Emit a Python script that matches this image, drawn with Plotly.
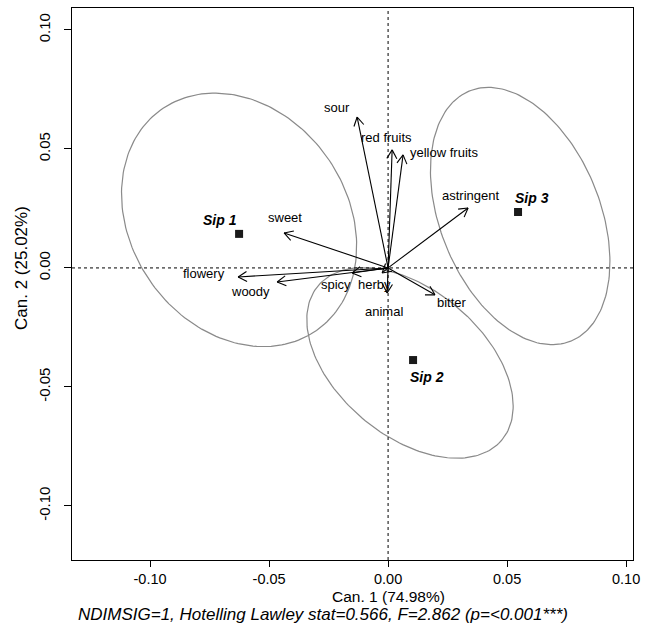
import numpy as np
import plotly.graph_objects as go

# ---- data ----
groups = ["Sip 1", "Sip 2", "Sip 3"]
group_x = [-0.0626, 0.0105, 0.0546]
group_y = [0.0143, -0.0387, 0.0235]
group_label_x = [-0.0706, 0.0164, 0.0605]
group_label_y = [0.0202, -0.0458, 0.0294]

ellipse_cx = [-0.0626, 0.0092, 0.0555]
ellipse_cy = [0.0202, -0.0399, 0.0218]
ellipse_a = [0.0567, 0.0504, 0.0567]
ellipse_b = [0.0454, 0.0307, 0.0336]
ellipse_angle = [-55, -40, -68]

attributes = ["sour", "red fruits", "yellow fruits", "astringent", "sweet",
              "flowery", "woody", "spicy", "herby", "animal", "bitter"]
attr_x = [-0.0130, 0.0017, 0.0063, 0.0336, -0.0437, -0.0630, -0.0466,
          -0.0151, -0.0025, -0.0004, 0.0197]
attr_y = [0.0634, 0.0496, 0.0475, 0.0252, 0.0147, -0.0038, -0.0059,
          -0.0021, -0.0021, -0.0105, -0.0113]
attr_label_x = [-0.0214, -0.0008, 0.0235, 0.0345, -0.0433, -0.0773, -0.0580,
                -0.0218, -0.0055, -0.0017, 0.0269]
attr_label_y = [0.0676, 0.0550, 0.0483, 0.0303, 0.0210, -0.0025, -0.0097,
                -0.0071, -0.0071, -0.0181, -0.0147]

tick_vals = [-0.10, -0.05, 0.00, 0.05, 0.10]
tick_text = ["-0.10", "-0.05", "0.00", "0.05", "0.10"]

x_title = "Can. 1 (74.98%)"
y_title = "Can. 2 (25.02%)"
subtitle = "NDIMSIG=1, Hotelling Lawley stat=0.566, F=2.862 (p=<0.001***)"

x_range = [-0.1328, 0.1029]
y_range = [-0.1227, 0.1092]

FONT = "Liberation Sans, Arial, sans-serif"

fig = go.Figure()

# ellipses
for cx, cy, a, b, ang in zip(ellipse_cx, ellipse_cy, ellipse_a, ellipse_b, ellipse_angle):
    t = np.linspace(0, 2 * np.pi, 200)
    th = np.deg2rad(ang)
    ex = cx + a * np.cos(t) * np.cos(th) - b * np.sin(t) * np.sin(th)
    ey = cy + a * np.cos(t) * np.sin(th) + b * np.sin(t) * np.cos(th)
    fig.add_trace(go.Scatter(x=ex, y=ey, mode="lines",
                             line=dict(color="#8a8a8a", width=1.2),
                             hoverinfo="skip", showlegend=False))

# arrows (shaft + open head)
head_len = 0.0042
head_ang = np.deg2rad(30)
ax_pts, ay_pts = [], []
for x, y in zip(attr_x, attr_y):
    ax_pts += [0, x, None]
    ay_pts += [0, y, None]
    d = np.arctan2(y, x)
    for s in (1, -1):
        hx = x - head_len * np.cos(d + s * head_ang)
        hy = y - head_len * np.sin(d + s * head_ang)
        ax_pts += [hx, x, None]
        ay_pts += [hy, y, None]
fig.add_trace(go.Scatter(x=ax_pts, y=ay_pts, mode="lines",
                         line=dict(color="black", width=1.1),
                         hoverinfo="skip", showlegend=False))

# group points
fig.add_trace(go.Scatter(x=group_x, y=group_y, mode="markers",
                         marker=dict(symbol="square", size=8, color="#1a1a1a"),
                         showlegend=False))

annotations = []
for name, lx, ly in zip(attributes, attr_label_x, attr_label_y):
    annotations.append(dict(x=lx, y=ly, xref="x", yref="y", text=name,
                            showarrow=False, font=dict(family=FONT, size=13, color="black")))
for name, lx, ly in zip(groups, group_label_x, group_label_y):
    annotations.append(dict(x=lx, y=ly, xref="x", yref="y", text="<b><i>" + name + "</i></b>",
                            showarrow=False, font=dict(family=FONT, size=14, color="black")))

# axis titles (centred on the origin, as in the reference)
annotations.append(dict(x=0, y=-0.0670, xref="x", yref="paper", text=x_title,
                        showarrow=False, yanchor="middle",
                        font=dict(family=FONT, size=15.5, color="black")))
annotations.append(dict(x=0.4483, y=-0.0996, xref="paper", yref="paper", text="<i>" + subtitle + "</i>",
                        showarrow=False, yanchor="middle",
                        font=dict(family=FONT, size=17, color="black")))
annotations.append(dict(x=-0.0891, y=0, xref="paper", yref="y", text=y_title,
                        showarrow=False, textangle=-90, xanchor="center", yanchor="middle",
                        font=dict(family=FONT, size=17, color="black")))

shapes = [
    dict(type="line", xref="x", yref="paper", x0=0, x1=0, y0=0, y1=1,
         line=dict(color="black", width=1, dash="dot")),
    dict(type="line", xref="paper", yref="y", x0=0, x1=1, y0=0, y1=0,
         line=dict(color="black", width=1, dash="dot")),
]

axis_common = dict(showgrid=False, zeroline=False, showline=True, mirror=True,
                   linecolor="black", linewidth=1, ticks="outside",
                   tickcolor="black", tickwidth=1,
                   tickvals=tick_vals, ticktext=tick_text)

fig.update_layout(
    width=647, height=625,
    margin=dict(l=72, r=14, t=8, b=65),
    paper_bgcolor="white", plot_bgcolor="white",
    xaxis=dict(range=x_range, ticklen=6,
               tickfont=dict(family=FONT, size=14.5, color="black"), **axis_common),
    yaxis=dict(range=y_range, tickangle=-90, ticklen=7, ticklabelstandoff=8,
               tickfont=dict(family=FONT, size=15, color="black"), **axis_common),
    annotations=annotations, shapes=shapes,
    showlegend=False,
)

fig.write_html("out.html")
